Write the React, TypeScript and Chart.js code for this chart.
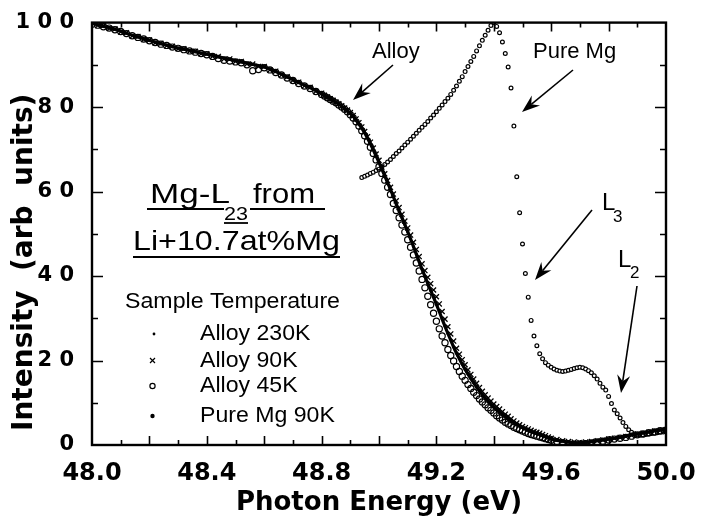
import React, { useEffect, useRef } from 'react';
import { Chart, registerables } from 'chart.js';

Chart.register(...registerables);

// ---------- DATA ----------
const alloyEnergy = [
  48.00, 48.02, 48.04, 48.06, 48.08, 48.10, 48.12, 48.14, 48.16, 48.18,
  48.20, 48.22, 48.24, 48.26, 48.28, 48.30, 48.32, 48.34, 48.36, 48.38,
  48.40, 48.42, 48.44, 48.46, 48.48, 48.50, 48.52, 48.54, 48.56, 48.58,
  48.60, 48.62, 48.64, 48.66, 48.68, 48.70, 48.72, 48.74, 48.76, 48.78,
  48.80,
  48.81, 48.82, 48.83, 48.84, 48.85, 48.86, 48.87, 48.88, 48.89, 48.90,
  48.91, 48.92, 48.93, 48.94, 48.95, 48.96, 48.97, 48.98, 48.99, 49.00,
  49.01, 49.02, 49.03, 49.04, 49.05, 49.06, 49.07, 49.08, 49.09, 49.10,
  49.11, 49.12, 49.13, 49.14, 49.15, 49.16, 49.17, 49.18, 49.19, 49.20,
  49.21, 49.22, 49.23, 49.24, 49.25, 49.26, 49.27, 49.28, 49.29, 49.30,
  49.31, 49.32, 49.33, 49.34, 49.35, 49.36, 49.37, 49.38, 49.39, 49.40,
  49.41, 49.42, 49.43, 49.44, 49.45, 49.46, 49.47, 49.48, 49.49, 49.50,
  49.51, 49.52, 49.53, 49.54, 49.55, 49.56, 49.57, 49.58, 49.59, 49.60,
  49.62, 49.64, 49.66, 49.68, 49.70, 49.72, 49.74, 49.76, 49.78, 49.80,
  49.82, 49.84, 49.86, 49.88, 49.90, 49.92, 49.94, 49.96, 49.98, 50.00,
];

const alloy230K = [
  99.8, 99.5, 99.1, 98.8, 98.4, 98.0, 97.5, 97.0, 96.6, 96.2,
  95.8, 95.4, 95.0, 94.7, 94.3, 94.0, 93.7, 93.4, 93.1, 92.8,
  92.5, 92.2, 91.9, 91.6, 91.3, 91.0, 90.7, 90.4, 90.1, 89.8,
  89.5, 89.0, 88.4, 87.8, 87.1, 86.5, 85.8, 85.2, 84.6, 83.9,
  83.2,
  82.7, 82.3, 81.9, 81.5, 81.1, 80.7, 80.2, 79.7, 79.1, 78.5,
  77.8, 76.9, 76.0, 75.0, 73.9, 72.6, 71.3, 69.9, 68.4, 66.9,
  65.3, 63.7, 62.1, 60.5, 58.8, 57.1, 55.4, 53.8, 52.2, 50.5,
  48.8, 47.0, 45.2, 43.4, 41.6, 39.9, 38.2, 36.6, 35.0, 33.3,
  31.6, 29.8, 28.1, 26.4, 24.8, 23.2, 21.7, 20.4, 19.1, 17.9,
  16.8, 15.7, 14.7, 13.7, 12.8, 11.9, 11.1, 10.4, 9.7, 9.0,
  8.4, 7.8, 7.3, 6.8, 6.3, 5.8, 5.3, 4.9, 4.5, 4.1,
  3.8, 3.5, 3.2, 2.9, 2.7, 2.5, 2.2, 2.0, 1.7, 1.4,
  1.1, 0.9, 0.7, 0.5, 0.5, 0.6, 0.8, 1.0, 1.2, 1.4,
  1.6, 1.8, 2.1, 2.4, 2.6, 2.9, 3.1, 3.4, 3.6, 3.8,
];

const alloy90K = [
  100.0, 99.3, 99.3, 98.6, 98.5, 97.8, 97.6, 96.8, 96.7, 96.0,
  95.9, 95.2, 95.1, 94.5, 94.4, 93.8, 93.8, 93.2, 93.2, 92.6,
  92.6, 92.0, 92.0, 91.4, 91.4, 90.8, 90.8, 90.2, 90.2, 89.6,
  89.6, 88.8, 88.5, 87.6, 87.2, 86.3, 85.9, 85.0, 84.7, 83.7,
  83.3,
  82.8, 82.4, 82.0, 81.6, 81.2, 80.8, 80.3, 79.8, 79.3, 78.7,
  78.0, 77.2, 76.3, 75.3, 74.2, 73.0, 71.7, 70.3, 68.9, 67.4,
  65.8, 64.2, 62.6, 61.0, 59.4, 57.8, 56.2, 54.6, 53.0, 51.4,
  49.7, 48.0, 46.3, 44.6, 42.9, 41.3, 39.7, 38.2, 36.7, 35.1,
  33.4, 31.6, 29.8, 28.0, 26.3, 24.6, 22.9, 21.5, 20.2, 19.0,
  17.8, 16.7, 15.6, 14.6, 13.6, 12.7, 11.9, 11.1, 10.4, 9.7,
  9.1, 8.5, 7.9, 7.3, 6.8, 6.2, 5.7, 5.2, 4.8, 4.4,
  4.1, 3.8, 3.5, 3.2, 3.0, 2.8, 2.5, 2.2, 1.9, 1.6,
  1.3, 1.0, 0.8, 0.7, 0.6, 0.7, 0.8, 1.0, 1.2, 1.4,
  1.6, 1.8, 2.0, 2.3, 2.6, 2.8, 3.0, 3.3, 3.5, 3.6,
];

const alloy45K = [
  99.6, 99.4, 99.0, 98.7, 98.3, 97.9, 97.4, 96.9, 96.5, 96.1,
  95.7, 95.3, 94.9, 94.6, 94.2, 93.9, 93.6, 93.3, 93.0, 92.7,
  92.4, 92.0, 91.5, 91.1, 90.9, 90.7, 90.5, 90.0, 88.6, 88.9,
  89.3, 88.8, 88.2, 87.6, 86.9, 86.3, 85.6, 85.0, 84.4, 83.7,
  83.0,
  82.6, 82.2, 81.8, 81.4, 81.0, 80.5, 80.0, 79.5, 78.9, 78.2,
  77.4, 76.5, 75.5, 74.4, 73.2, 71.9, 70.5, 69.0, 67.5, 65.9,
  64.3, 62.7, 61.0, 59.3, 57.2, 55.5, 53.8, 52.1, 50.4, 48.6,
  46.8, 45.0, 43.1, 41.2, 39.2, 37.2, 35.2, 33.2, 31.2, 29.3,
  27.5, 25.8, 24.2, 22.6, 21.2, 19.9, 18.6, 17.4, 16.3, 15.3,
  14.3, 13.4, 12.5, 11.7, 10.9, 10.2, 9.5, 8.8, 8.2, 7.6,
  6.9, 6.4, 5.9, 5.4, 5.0, 4.6, 4.2, 3.9, 3.6, 3.3,
  3.0, 2.7, 2.5, 2.3, 2.1, 1.9, 1.7, 1.5, 1.3, 1.1,
  0.8, 0.5, 0.3, 0.2, 0.2, 0.3, 0.5, 0.7, 0.9, 1.2,
  1.4, 1.6, 1.8, 2.1, 2.4, 2.6, 2.9, 3.1, 3.4, 3.5,
];

const mgEnergy = [
  48.94, 48.95, 48.96, 48.97, 48.98, 48.99, 49.00, 49.01, 49.02, 49.03,
  49.04, 49.05, 49.06, 49.07, 49.08, 49.09, 49.10, 49.11, 49.12, 49.13,
  49.14, 49.15, 49.16, 49.17, 49.18, 49.19, 49.20, 49.21, 49.22, 49.23,
  49.24, 49.25, 49.26, 49.27, 49.28, 49.29, 49.30, 49.31, 49.32, 49.33,
  49.34, 49.35, 49.36, 49.37, 49.38, 49.39, 49.40, 49.41, 49.42, 49.43,
  49.44, 49.45, 49.46, 49.47, 49.48, 49.49, 49.50, 49.51, 49.52, 49.53,
  49.54, 49.55, 49.56, 49.57, 49.58, 49.59, 49.60, 49.61, 49.62, 49.63,
  49.64, 49.65, 49.66, 49.67, 49.68, 49.69, 49.70, 49.71, 49.72, 49.73,
  49.74, 49.75, 49.76, 49.77, 49.78, 49.79, 49.80, 49.81, 49.82, 49.83,
  49.84, 49.85, 49.86, 49.87, 49.88, 49.89, 49.90, 49.91, 49.92, 49.93,
  49.94, 49.95, 49.96, 49.97, 49.98, 49.99, 50.00,
];

const pureMg90K = [
  63.3, 63.6, 63.9, 64.3, 64.6, 65.0, 65.3, 65.8, 66.4, 67.0,
  67.6, 68.3, 69.0, 69.6, 70.3, 71.0, 71.7, 72.4, 73.1, 73.8,
  74.5, 75.2, 75.9, 76.6, 77.4, 78.1, 78.9, 79.7, 80.5, 81.3,
  82.1, 83.0, 84.0, 85.0, 86.1, 87.2, 88.4, 89.6, 90.8, 92.0,
  93.3, 94.5, 95.8, 97.0, 98.2, 99.3, 100.0, 99.1, 97.6, 95.4,
  92.7, 89.5, 84.5, 75.5, 63.5, 55.0, 47.6, 40.6, 35.0, 29.5,
  25.8, 23.5, 21.6, 20.4, 19.5, 18.9, 18.4, 18.0, 17.7, 17.5,
  17.4, 17.5, 17.7, 17.9, 18.1, 18.3, 18.4, 18.3, 18.0, 17.6,
  17.1, 16.4, 15.6, 14.6, 13.7, 13.0, 11.5, 9.8, 8.3, 7.4,
  6.4, 5.3, 4.4, 3.6, 3.0, 2.6, 2.4, 2.3, 2.4, 2.5,
  2.6, 2.7, 2.8, 2.9, 3.0, 3.1, 3.2,
];

const xTickValues = [48.0, 48.4, 48.8, 49.2, 49.6, 50.0];
const yTickValues = [0, 20, 40, 60, 80, 100];
const legendTitle = 'Sample Temperature';
const seriesNames = ['Alloy 230K', 'Alloy 90K', 'Alloy 45K', 'Pure Mg 90K'];

// ---------- helpers ----------
const SANS = '"Liberation Sans", Arial, Helvetica, sans-serif';
const BOLD = '"DejaVu Sans", "Liberation Sans", sans-serif';

function txt(ctx: any, s: string, x: number, y: number, size: number, width?: number, sx = 1) {
  ctx.save();
  ctx.font = `${size}px ${SANS}`;
  ctx.fillStyle = '#000';
  ctx.textAlign = 'left';
  ctx.textBaseline = 'alphabetic';
  const w = ctx.measureText(s).width;
  const k = width ? width / w : sx;
  ctx.translate(x, y);
  ctx.scale(k, 1);
  ctx.fillText(s, 0, 0);
  ctx.restore();
  return x + w * k;
}

function arrow(ctx: any, x0: number, y0: number, x1: number, y1: number) {
  const dx = x1 - x0, dy = y1 - y0;
  const L = Math.hypot(dx, dy);
  const ux = dx / L, uy = dy / L;
  const nx = -uy, ny = ux;
  const hl = 18, hw = 6.5, notch = 12;
  ctx.save();
  ctx.strokeStyle = '#000';
  ctx.fillStyle = '#000';
  ctx.lineWidth = 1.6;
  ctx.beginPath();
  ctx.moveTo(x0, y0);
  ctx.lineTo(x1 - ux * notch, y1 - uy * notch);
  ctx.stroke();
  ctx.beginPath();
  ctx.moveTo(x1, y1);
  ctx.lineTo(x1 - ux * hl + nx * hw, y1 - uy * hl + ny * hw);
  ctx.lineTo(x1 - ux * notch, y1 - uy * notch);
  ctx.lineTo(x1 - ux * hl - nx * hw, y1 - uy * hl - ny * hw);
  ctx.closePath();
  ctx.fill();
  ctx.restore();
}

function hline(ctx: any, xa: number, xb: number, y: number) {
  ctx.save();
  ctx.strokeStyle = '#000';
  ctx.lineWidth = 1.8;
  ctx.beginPath();
  ctx.moveTo(xa, y);
  ctx.lineTo(xb, y);
  ctx.stroke();
  ctx.restore();
}

const frameAndNotes = {
  id: 'frameAndNotes',
  afterDatasetsDraw(chart: any) {
    const { ctx, chartArea: a, scales } = chart;
    const xs = scales.x, ys = scales.y;
    ctx.save();
    ctx.strokeStyle = '#000';
    ctx.lineWidth = 2.4;
    ctx.strokeRect(a.left, a.top, a.right - a.left, a.bottom - a.top);
    ctx.lineWidth = 1.6;
    ctx.beginPath();
    for (let i = 1; i < 20; i++) {
      const px = Math.round(xs.getPixelForValue(48 + i * 0.1)) + 0.5;
      const len = i % 2 === 0 ? 9 : 5;
      ctx.moveTo(px, a.bottom); ctx.lineTo(px, a.bottom - len);
      ctx.moveTo(px, a.top); ctx.lineTo(px, a.top + len);
    }
    for (let i = 1; i < 10; i++) {
      const py = Math.round(ys.getPixelForValue(i * 10)) + 0.5;
      const len = i % 2 === 0 ? 11 : 6;
      ctx.moveTo(a.left, py); ctx.lineTo(a.left + len, py);
      ctx.moveTo(a.right, py); ctx.lineTo(a.right - len, py);
    }
    ctx.stroke();
    ctx.restore();

    // Title block
    const e = txt(ctx, 'Mg-L', 150, 203, 28, 80);
    const s0 = e - 6;
    const s1 = txt(ctx, '23', s0, 220, 18, 24);
    txt(ctx, 'from', 253, 203, 28, 62);
    hline(ctx, 147, s0, 209);
    hline(ctx, s0, s1, 223);
    hline(ctx, s1 + 2, 325, 209);
    txt(ctx, 'Li+10.7at%Mg', 133, 250, 28, 207);
    hline(ctx, 133, 340, 257);

    // Legend
    txt(ctx, legendTitle, 125, 308, 22, 215);
    const rows = [340, 367, 392, 422];
    seriesNames.forEach((n, i) => txt(ctx, n, 200, rows[i], 22, undefined, 1.05));
    ctx.save();
    ctx.fillStyle = '#000';
    ctx.strokeStyle = '#000';
    ctx.beginPath(); ctx.arc(154, 334, 1.4, 0, Math.PI * 2); ctx.fill();
    ctx.lineWidth = 1.2;
    ctx.beginPath();
    ctx.moveTo(150, 358); ctx.lineTo(155, 363); ctx.moveTo(155, 358); ctx.lineTo(150, 363);
    ctx.stroke();
    ctx.beginPath(); ctx.arc(152.5, 386, 2.6, 0, Math.PI * 2); ctx.stroke();
    ctx.beginPath(); ctx.arc(152.5, 416, 2.2, 0, Math.PI * 2); ctx.fill();
    ctx.restore();

    // Callouts
    txt(ctx, 'Alloy', 372, 58, 22);
    txt(ctx, 'Pure Mg', 533, 58, 22);
    txt(ctx, 'L', 602, 210, 24);
    txt(ctx, '3', 613, 222, 17);
    txt(ctx, 'L', 618, 267, 24);
    txt(ctx, '2', 630, 278, 17);
    arrow(ctx, 393, 65, 353, 100);
    arrow(ctx, 573, 70, 522, 112);
    arrow(ctx, 592, 210, 535, 280);
    arrow(ctx, 637, 286, 621, 393);
  },
};

const pts = (xs: number[], ys: number[]) => xs.map((x, i) => ({ x, y: ys[i] }));

export default function App() {
  const ref = useRef<HTMLCanvasElement | null>(null);
  useEffect(() => {
    if (!ref.current) return;
    const chart = new Chart(ref.current, {
      type: 'scatter',
      data: {
        datasets: [
          {
            label: seriesNames[0],
            data: pts(alloyEnergy, alloy230K),
            showLine: true,
            borderColor: '#000',
            borderWidth: 3.2,
            tension: 0,
            pointStyle: 'circle',
            pointRadius: 1.5,
            pointBackgroundColor: '#000',
            pointBorderWidth: 0,
          },
          {
            label: seriesNames[1],
            data: pts(alloyEnergy, alloy90K),
            showLine: false,
            pointStyle: 'crossRot',
            pointRadius: 3.6,
            pointBorderColor: '#000',
            pointBorderWidth: 1.3,
          },
          {
            label: seriesNames[2],
            data: pts(alloyEnergy, alloy45K),
            showLine: false,
            pointStyle: 'circle',
            pointRadius: 3.1,
            pointBorderColor: '#000',
            pointBackgroundColor: 'rgba(255,255,255,0)',
            pointBorderWidth: 1.2,
          },
          {
            label: seriesNames[3],
            data: pts(mgEnergy, pureMg90K),
            showLine: false,
            pointStyle: 'circle',
            pointRadius: 1.9,
            pointBorderColor: '#000',
            pointBackgroundColor: '#fff',
            pointBorderWidth: 1.2,
          },
        ],
      },
      options: {
        animation: false,
        responsive: false,
        events: [],
        layout: { padding: { left: 0, top: 16, right: 36, bottom: 0 } },
        plugins: { legend: { display: false }, tooltip: { enabled: false } },
        scales: {
          x: {
            type: 'linear',
            min: 48,
            max: 50,
            grid: { display: false },
            border: { display: false },
            afterBuildTicks: (s: any) => { s.ticks = xTickValues.map((v) => ({ value: v })); },
            afterFit: (s: any) => { s.height = 78; },
            ticks: {
              color: '#000',
              padding: 6,
              autoSkip: false,
              maxRotation: 0,
              font: { family: BOLD, weight: 'bold', size: 24 },
              callback: (v: any) => Number(v).toFixed(1),
            },
            title: {
              display: true,
              text: 'Photon Energy (eV)',
              color: '#000',
              font: { family: BOLD, weight: 'bold', size: 26 },
              padding: { top: 0, bottom: 4 },
            },
          },
          y: {
            type: 'linear',
            min: 0,
            max: 100,
            grid: { display: false },
            border: { display: false },
            afterBuildTicks: (s: any) => { s.ticks = yTickValues.map((v) => ({ value: v })); },
            afterFit: (s: any) => { s.width = 92; },
            ticks: {
              color: '#000',
              padding: 10,
              autoSkip: false,
              font: { family: BOLD, weight: 'bold', size: 21 },
              callback: (v: any) => String(Math.round(Number(v))).split('').join(' '),
            },
            title: {
              display: true,
              text: '\u2002Intensity  (arb  units)',
              align: 'start',
              color: '#000',
              font: { family: BOLD, weight: 'bold', size: 28 },
              padding: { top: 8, bottom: 0 },
            },
          },
        },
      },
      plugins: [frameAndNotes],
    } as any);
    return () => chart.destroy();
  }, []);
  return (
    <div style={{ position: 'absolute', left: 0, top: 0, width: 702, height: 523, background: '#fff' }}>
      <canvas ref={ref} width={702} height={523} style={{ display: 'block' }} />
    </div>
  );
}
